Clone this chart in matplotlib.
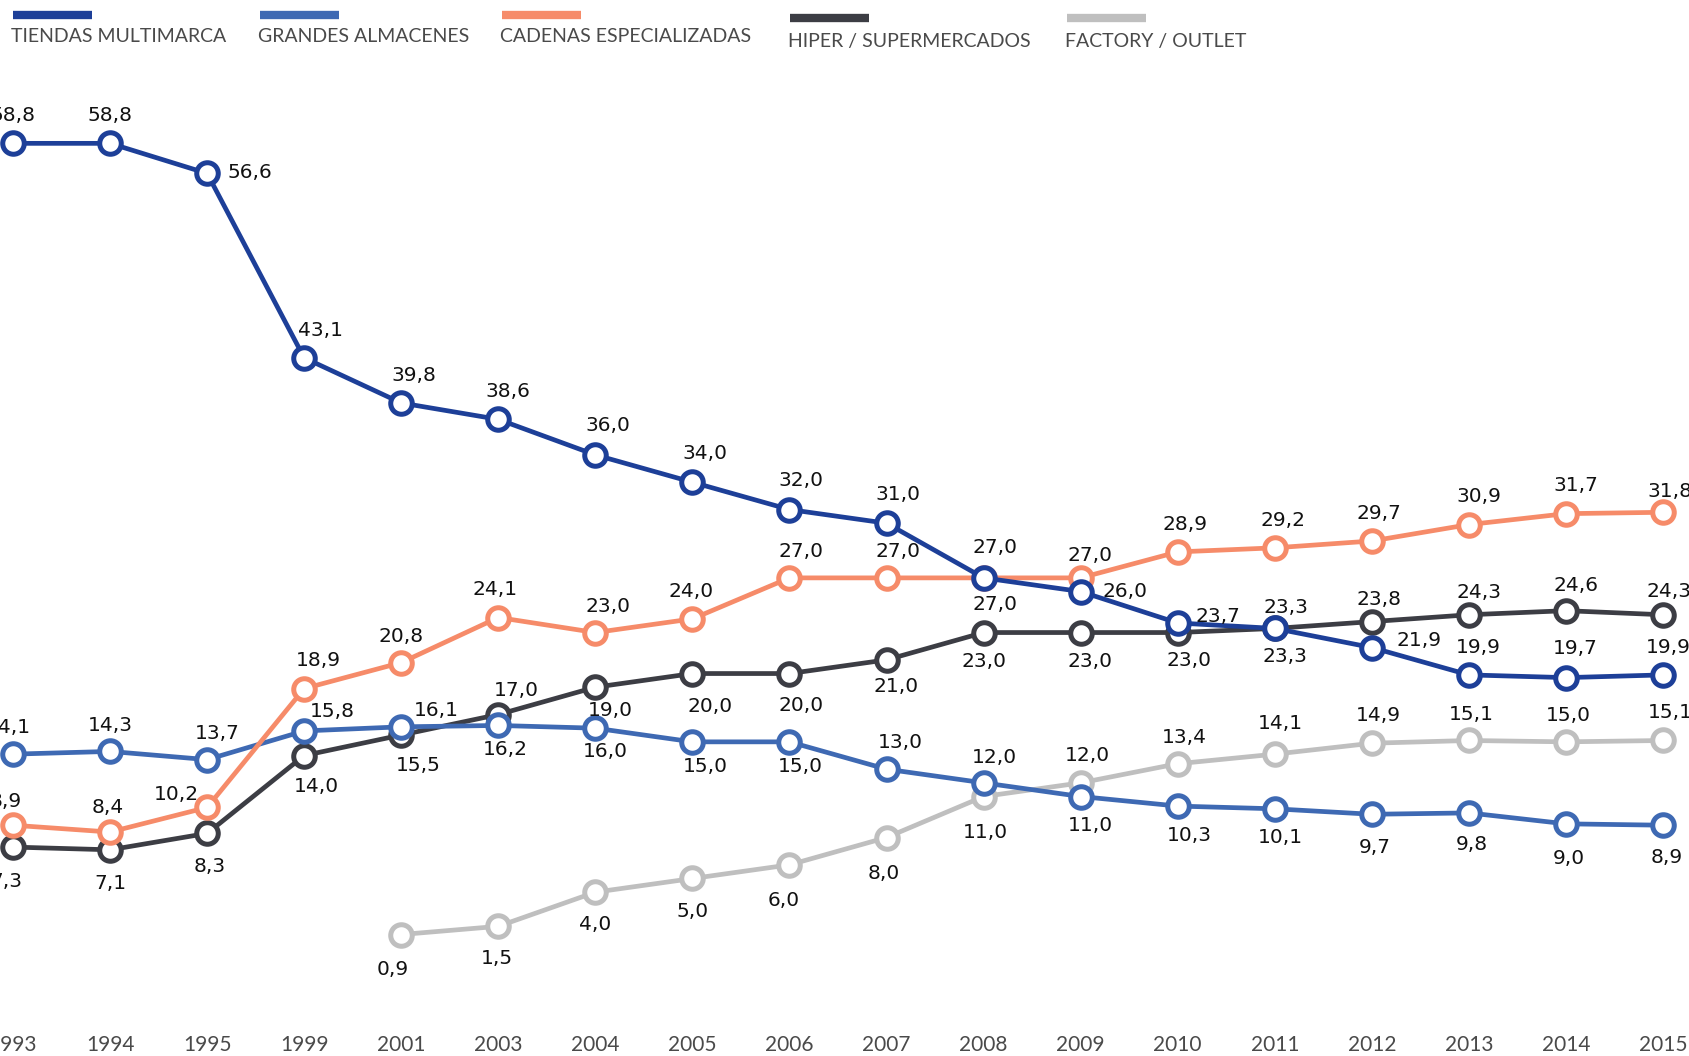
import numpy as np
import matplotlib
matplotlib.use('Agg')
import matplotlib.pyplot as plt

plt.rcParams['font.family'] = ['Lato', 'DejaVu Sans']

YEARS = ['1993', '1994', '1995', '1999', '2001', '2003', '2004', '2005', '2006',
         '2007', '2008', '2009', '2010', '2011', '2012', '2013', '2014', '2015']

NAMES = ['TIENDAS MULTIMARCA', 'GRANDES ALMACENES', 'CADENAS ESPECIALIZADAS',
         'HIPER / SUPERMERCADOS', 'FACTORY / OUTLET']

multimarca = [58.8, 58.8, 56.6, 43.1, 39.8, 38.6, 36.0, 34.0, 32.0,
              31.0, 27.0, 26.0, 23.7, 23.3, 21.9, 19.9, 19.7, 19.9]
grandes = [14.1, 14.3, 13.7, 15.8, 16.1, 16.2, 16.0, 15.0, 15.0,
           13.0, 12.0, 11.0, 10.3, 10.1, 9.7, 9.8, 9.0, 8.9]
cadenas = [8.9, 8.4, 10.2, 18.9, 20.8, 24.1, 23.0, 24.0, 27.0,
           27.0, 27.0, 27.0, 28.9, 29.2, 29.7, 30.9, 31.7, 31.8]
hiper = [7.3, 7.1, 8.3, 14.0, 15.5, 17.0, 19.0, 20.0, 20.0,
         21.0, 23.0, 23.0, 23.0, 23.3, 23.8, 24.3, 24.6, 24.3]
factory = [np.nan, np.nan, np.nan, np.nan, 0.9, 1.5, 4.0, 5.0, 6.0,
           8.0, 11.0, 12.0, 13.4, 14.1, 14.9, 15.1, 15.0, 15.1]

COLORS = ['#1d3f98', '#3e69b3', '#f68b69', '#3c3d44', '#bfbfbf']

# label offsets in points (dx, dy) for each point
off_multimarca = [(0, 20), (0, 20), (31, 1), (12, 20), (9, 20), (7, 20), (9, 21), (9, 21), (8, 21),
                  (8, 21), (8, 22), (32, 0), (29, 5), (7, -20), (34, 5), (7, 20), (7, 21), (4, 20)]
off_grandes = [(-3, 19), (0, 19), (7, 19), (20, 14), (25, 12), (5, -17), (7, -17), (9, -18), (8, -18),
               (10, 19), (8, 18), (7, -21), (8, -21), (4, -21), (2, -24), (2, -23), (2, -25), (3, -23)]
off_cadenas = [(-5, 17), (-2, 18), (-22, 9), (10, 20), (0, 19), (-2, 20), (9, 19), (-1, 20), (8, 19),
               (8, 19), (8, -19), (7, 16), (5, 20), (6, 20), (5, 20), (7, 20), (7, 20), (5, 15)]
off_hiper = [(-5, -25), (0, -24), (2, -24), (9, -22), (12, -22), (13, 17), (11, -17), (13, -24), (8, -23),
             (7, -19), (0, -21), (7, -21), (8, -20), (8, 15), (5, 16), (7, 16), (7, 18), (4, 17)]
off_factory = [None, None, None, None, (-6, -25), (-1, -23), (0, -23), (0, -24), (-4, -26),
               (-2, -26), (1, -26), (5, 20), (5, 19), (4, 22), (5, 20), (2, 19), (2, 19), (5, 20)]

series = [multimarca, grandes, cadenas, hiper, factory]
offsets = [off_multimarca, off_grandes, off_cadenas, off_hiper, off_factory]


def fmt(v):
    return f'{v:.1f}'.replace('.', ',')


fig = plt.figure(figsize=(16.9, 10.56), dpi=100)
ax = fig.add_axes([0, 0, 1, 1])
x = np.arange(len(YEARS))

zorders = [6, 4, 5, 3, 2]
for vals, col, offs, z in zip(series, COLORS, offsets, zorders):
    ax.plot(x, vals, color=col, lw=3.4, marker='o', ms=15.5, mfc='white',
            mec=col, mew=3.6, zorder=z)
    for xi, v, o in zip(x, vals, offs):
        if np.isnan(v):
            continue
        ax.annotate(fmt(v), (xi, v), xytext=o, textcoords='offset points',
                    ha='center', va='center', fontsize=14.5, color='#111111',
                    family='DejaVu Sans', zorder=10)

ax.set_xlim(-0.134, 17.278)
ax.set_ylim(-7.99, 69.29)
ax.axis('off')

for xi, yr in zip(x, YEARS):
    ax.text(xi, 0.0104, yr, transform=ax.get_xaxis_transform(), ha='center',
            va='center', fontsize=15, color='#4a4a4a', fontweight='normal')

# legend drawn by hand
leg_x = [13, 260, 502, 790, 1067]
leg_bar_y = [15, 15, 15, 18, 18]
leg_txt_y = [37, 37, 37, 41, 41]
W, H = 1690, 1056
for lx, by, ty, name, col in zip(leg_x, leg_bar_y, leg_txt_y, NAMES, COLORS):
    fig.add_artist(plt.Line2D([lx / W, (lx + 79) / W], [1 - by / H, 1 - by / H],
                              color=col, lw=6, solid_capstyle='butt'))
    fig.text(lx / W - 0.001, 1 - ty / H, name, ha='left', va='center', fontsize=14,
             color='#4a4a4a', fontweight='normal')

fig.savefig('out.png', dpi=100)
